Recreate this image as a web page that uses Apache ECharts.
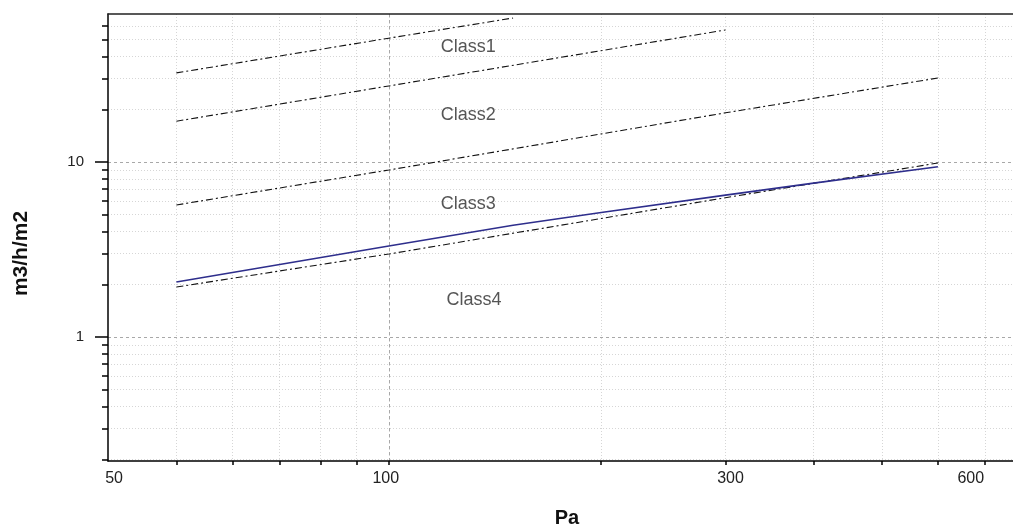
<!DOCTYPE html>
<html><head><meta charset="utf-8">
<script src="https://cdn.jsdelivr.net/npm/echarts@6/dist/echarts.min.js"></script>
<style>html,body{margin:0;padding:0;background:#fff}#c{width:1013px;height:528px}</style>
</head><body><div id="c"></div>
<script>
// ---- data ----
const class1Pa = [50, 100, 150];
const class1Flow = [32.3, 51, 66.5];
const class2Pa = [50, 100, 300];
const class2Flow = [17.1, 27.2, 56.8];
const class3Pa = [50, 100, 300, 600];
const class3Flow = [5.68, 9.0, 19.1, 30.2];
const class4Pa = [50, 100, 300, 600];
const class4Flow = [1.93, 2.98, 6.25, 9.87];
const measuredPa = [50, 100, 150, 200, 300, 400, 600];
const measuredFlow = [2.06, 3.31, 4.35, 5.15, 6.47, 7.57, 9.4];

const classNames = ['Class1', 'Class2', 'Class3', 'Class4'];
const classLabelPa = [129.6, 129.6, 129.6, 132];
const classLabelFlow = [45.2, 18.6, 5.74, 1.63];

const xTickValues = [50, 60, 70, 80, 90, 100, 200, 300, 400, 500, 600, 700];
const xLabelAt = [40.8, 99, 305, 668];
const xLabelTexts = ['50', '100', '300', '600'];
const xMajorGrid = [100];
const yMinorTicks = [0.2, 0.3, 0.4, 0.5, 0.6, 0.7, 0.8, 0.9, 2, 3, 4, 5, 6, 7, 8, 9, 20, 30, 40, 50, 60];
const yMajorTicks = [1, 10];
const yLabelTexts = ['1', '10'];

const X_MIN = 40, X_MAX = 766.6, Y_MIN = 0.1956, Y_MAX = 70.1;
// --------------------------------------

const zip = (a, b) => a.map((v, i) => [v, b[i]]);
const pick = (vals, texts) => v => {
  let best = 0, d = Infinity;
  vals.forEach((x, i) => { const dd = Math.abs(Math.log(x) - Math.log(v)); if (dd < d) { d = dd; best = i; } });
  return texts[best];
};
const FONT = 'Liberation Sans, Arial, sans-serif';
const dashDot = { color: '#111', width: 1.1, type: [7, 3, 2, 3] };

const chart = echarts.init(document.getElementById('c'), null, { renderer: 'canvas' });
chart.setOption({
  animation: false,
  backgroundColor: '#fff',
  grid: { left: 108, right: 0, top: 14, bottom: 67, containLabel: false, outerBoundsMode: 'none' },
  xAxis: [
    {
      type: 'log', logBase: 10, min: X_MIN, max: X_MAX, position: 'bottom',
      name: 'Pa', nameLocation: 'middle', nameGap: 47,
      nameTextStyle: { fontFamily: FONT, fontSize: 20, fontWeight: 'bold', color: '#111', padding: [0, 0, 0, 13] },
      axisLine: { show: true, lineStyle: { color: '#000', width: 1.5 } },
      axisTick: { show: true, inside: false, length: 4, customValues: xTickValues, lineStyle: { color: '#000', width: 1.5 } },
      axisLabel: { show: true, customValues: xLabelAt, formatter: pick(xLabelAt, xLabelTexts), margin: 10,
        fontFamily: FONT, fontSize: 16, color: '#222' },
      splitLine: { show: true, lineStyle: { color: '#d6d6d6', width: 1, type: [1, 2] } },
      minorTick: { show: false }, minorSplitLine: { show: false }
    },
    {
      type: 'log', logBase: 10, min: X_MIN, max: X_MAX, position: 'top',
      axisLine: { show: true, lineStyle: { color: '#222', width: 1.5 } },
      axisTick: { show: false, customValues: xMajorGrid },
      axisLabel: { show: false },
      splitLine: { show: true, lineStyle: { color: '#a8a8a8', width: 1, type: [3, 3] } }
    }
  ],
  yAxis: [
    {
      type: 'log', logBase: 10, min: Y_MIN, max: Y_MAX, position: 'left',
      axisLine: { show: true, lineStyle: { color: '#000', width: 1.5 } },
      axisTick: { show: true, inside: false, length: 6, customValues: yMinorTicks, lineStyle: { color: '#000', width: 1.5 } },
      axisLabel: { show: false },
      splitLine: { show: true, lineStyle: { color: '#d6d6d6', width: 1, type: [1, 2] } }
    },
    {
      type: 'log', logBase: 10, min: Y_MIN, max: Y_MAX, position: 'left',
      name: 'm3/h/m2', nameLocation: 'middle', nameGap: 76, nameRotate: 90,
      nameTextStyle: { fontFamily: FONT, fontSize: 21, fontWeight: 'bold', color: '#111', padding: [0, 32, 0, 0] },
      axisLine: { show: false },
      axisTick: { show: true, inside: false, length: 13, customValues: yMajorTicks, lineStyle: { color: '#000', width: 1.5 } },
      axisLabel: { show: true, customValues: yMajorTicks, formatter: pick(yMajorTicks, yLabelTexts), margin: 24,
        fontFamily: FONT, fontSize: 15, color: '#222' },
      splitLine: { show: true, lineStyle: { color: '#a8a8a8', width: 1, type: [3, 3] } }
    }
  ],
  series: [
    { name: 'Class1', type: 'line', data: zip(class1Pa, class1Flow), symbol: 'none', lineStyle: dashDot, z: 3 },
    { name: 'Class2', type: 'line', data: zip(class2Pa, class2Flow), symbol: 'none', lineStyle: dashDot, z: 3 },
    { name: 'Class3', type: 'line', data: zip(class3Pa, class3Flow), symbol: 'none', lineStyle: dashDot, z: 3 },
    { name: 'Class4', type: 'line', data: zip(class4Pa, class4Flow), symbol: 'none', lineStyle: dashDot, z: 3 },
    { name: 'Measured', type: 'line', data: zip(measuredPa, measuredFlow), symbol: 'none',
      lineStyle: { color: '#2e2e8c', width: 1.6, type: 'solid' }, z: 4 },
    { name: 'labels', type: 'scatter', symbolSize: 0, silent: true, z: 5,
      data: classNames.map((n, i) => ({ name: n, value: [classLabelPa[i], classLabelFlow[i]] })),
      label: { show: true, position: 'inside', formatter: p => p.name, fontFamily: FONT, fontSize: 18, color: '#2a2a2a' } }
  ]
});
</script>
</body></html>
